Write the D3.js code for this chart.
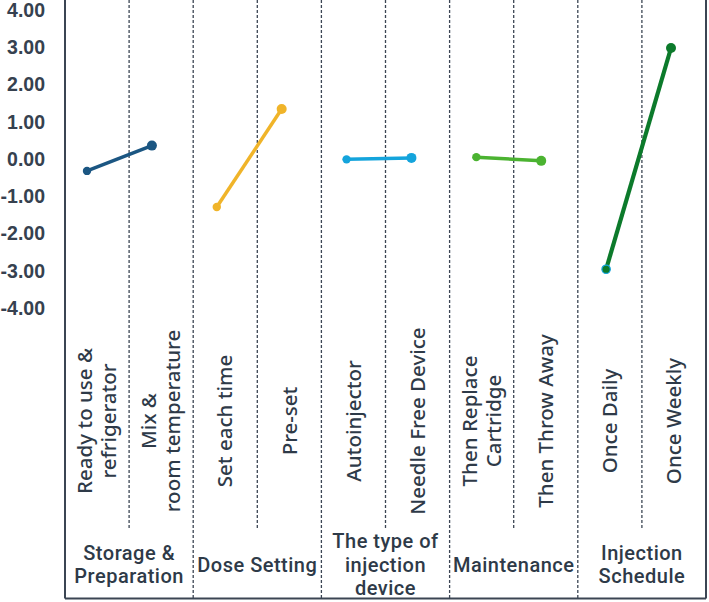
<!DOCTYPE html>
<style>
body { margin: 0; background: #fff; }
.tick text { font-family: "Liberation Sans", Arial, sans-serif; font-weight: bold; font-size: 19.5px; fill: #36414f; }
.lbl { fill: #2e3a48; font-weight: 500; }
.lvl { font-family: "Noto Sans", sans-serif; font-size: 20.5px; }
.grp { font-family: Roboto, sans-serif; font-size: 20px; letter-spacing: 0.5px; }
</style>
<svg width="709" height="602"></svg>
<script src="https://d3js.org/d3.v7.min.js"></script>
<script>

var levels = ["Ready to use & refrigerator", "Mix & room temperature", "Set each time", "Pre-set",
              "Autoinjector", "Needle Free Device", "Then Replace Cartridge", "Then Throw Away",
              "Once Daily", "Once Weekly"];
var levelLines = [["Ready to use &", "refrigerator"], ["Mix &", "room temperature"], ["Set each time"], ["Pre-set"],
                  ["Autoinjector"], ["Needle Free Device"], ["Then Replace", "Cartridge"], ["Then Throw Away"],
                  ["Once Daily"], ["Once Weekly"]];
var groups = ["Storage & Preparation", "Dose Setting", "The type of injection device", "Maintenance", "Injection Schedule"];
var groupLines = [["Storage &", "Preparation"], ["Dose Setting"], ["The type of", "injection", "device"], ["Maintenance"], ["Injection", "Schedule"]];
var values = [-0.32, 0.36, -1.29, 1.34, -0.01, 0.03, 0.05, -0.05, -2.96, 2.98];
var colors = ["#1b5682", "#f0b429", "#14a4dc", "#4bb331", "#0c7a2b"];
var yTicks = [4, 3, 2, 1, 0, -1, -2, -3, -4];

var svg = d3.select("svg"),
    left = 65, right = 706, top = 13, bottom = 598.5;

var y = d3.scaleLinear().domain([-4, 4]).range([308, 10]);
var xCell = d3.scaleBand().domain(levels).range([left, right]);
var xGroup = d3.scaleBand().domain(groups).range([left, right]);
var xPt = d3.scalePoint().domain(levels).range([87, 671]);

// grid: dashed lines
var ink = "#3b4553";
svg.append("g").selectAll("line")
  .data(levels.slice(1))
  .enter().append("line")
    .attr("x1", function(d) { return xCell(d); })
    .attr("x2", function(d) { return xCell(d); })
    .attr("y1", top)
    .attr("y2", function(d, i) { return (i % 2 == 0) ? 528 : bottom; })
    .attr("stroke", ink)
    .attr("stroke-width", 1.3)
    .attr("stroke-dasharray", "3,2");

// solid frame
svg.append("line").attr("x1", left).attr("x2", left).attr("y1", top).attr("y2", bottom)
  .attr("stroke", ink).attr("stroke-width", 2);
svg.append("line").attr("x1", right).attr("x2", right).attr("y1", top).attr("y2", bottom)
  .attr("stroke", ink).attr("stroke-width", 2);
svg.append("line").attr("x1", left).attr("x2", right).attr("y1", bottom).attr("y2", bottom)
  .attr("stroke", ink).attr("stroke-width", 2);

// y axis labels
svg.append("g")
    .attr("transform", "translate(" + left + ",0)")
    .call(d3.axisLeft(y).tickValues(yTicks).tickSize(0).tickPadding(20)
      .tickFormat(function(d) { return (d < 0 ? "-" : "") + Math.abs(d).toFixed(2); }))
    .call(function(g) { g.select(".domain").remove(); });

// lines + points per group
groups.forEach(function(gname, gi) {
  var pts = [0, 1].map(function(k) { var i = gi * 2 + k; return {x: xPt(levels[i]), y: y(values[i])}; });
  var g = svg.append("g");
  g.append("path")
    .attr("d", d3.line().x(function(d) { return d.x; }).y(function(d) { return d.y; })(pts))
    .attr("stroke", colors[gi])
    .attr("stroke-width", gi == 4 ? 4.2 : 3.5)
    .attr("fill", "none");
  g.selectAll("circle")
    .data(pts)
    .enter().append("circle")
      .attr("cx", function(d) { return d.x; })
      .attr("cy", function(d) { return d.y; })
      .attr("r", function(d, k) { return k == 0 ? 4.2 : 5; })
      .attr("fill", colors[gi])
      .attr("stroke", function(d, k) { return (gi == 4 && k == 0) ? "#14a4dc" : "none"; })
      .attr("stroke-width", 1.2);
});

// level labels (rotated)
var lineH = 24;
svg.append("g").selectAll("text")
  .data(levelLines)
  .enter().append("text")
    .attr("class", "lbl lvl")
    .attr("text-anchor", "middle")
    .attr("transform", function(d, i) {
      return "translate(" + (xCell(levels[i]) + xCell.bandwidth() / 2) + ",421) rotate(-90)";
    })
  .selectAll("tspan")
  .data(function(d) { return d.map(function(t, k) { return {t: t, off: (k - (d.length - 1) / 2) * lineH}; }); })
  .enter().append("tspan")
    .attr("x", 0)
    .attr("y", function(d) { return d.off; })
    .attr("dy", "0.35em")
    .text(function(d) { return d.t; });

// group labels
svg.append("g").selectAll("text")
  .data(groupLines)
  .enter().append("text")
    .attr("class", "lbl grp")
    .attr("text-anchor", "middle")
    .attr("transform", function(d, i) {
      return "translate(" + (xGroup(groups[i]) + xGroup.bandwidth() / 2) + ",564.5)";
    })
  .selectAll("tspan")
  .data(function(d) { return d.map(function(t, k) { return {t: t, off: (k - (d.length - 1) / 2) * 23.5}; }); })
  .enter().append("tspan")
    .attr("x", 0)
    .attr("y", function(d) { return d.off; })
    .attr("dy", "0.35em")
    .text(function(d) { return d.t; });

</script>
